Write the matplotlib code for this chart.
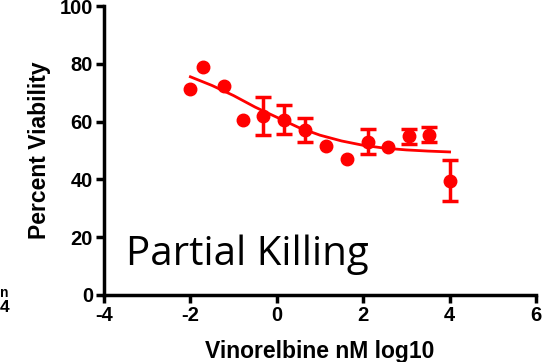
import numpy as np
import matplotlib.pyplot as plt

# log10 concentration (nM) and viability readings
dose = [-2.02, -1.70, -1.23, -0.79, -0.33, 0.16, 0.65, 1.14, 1.63, 2.12, 2.58, 3.05, 3.53, 4.00]
viab = [71.3, 78.9, 72.3, 60.6, 62.0, 60.6, 57.0, 51.6, 47.0, 53.0, 51.2, 55.0, 55.4, 39.6]
sem = [0, 0, 0, 0, 6.5, 5.0, 4.2, 0, 0, 4.3, 0, 2.6, 2.6, 7.0]

# fitted curve
fit_x = [-2.0, -1.5, -1.0, -0.5, 0.0, 0.5, 1.0, 1.5, 2.0, 2.5, 3.0, 3.5, 4.0]
fit_y = [75.5, 72.5, 69.0, 65.0, 61.5, 58.0, 55.3, 53.3, 51.8, 50.8, 50.2, 49.8, 49.5]

plt.rcParams['font.family'] = ['Liberation Sans', 'DejaVu Sans']
plt.rcParams['font.weight'] = 'bold'
plt.rcParams['axes.unicode_minus'] = False

fig = plt.figure(figsize=(5.43, 3.62), dpi=100)
ax = fig.add_axes([104/543, 1-295/362, 432/543, 289/362])

red = '#ff0000'
ax.plot(fit_x, fit_y, '-', color=red, lw=2)
ax.plot(dose, viab, 'o', color=red, ms=9)
ex = [d for d, s in zip(dose, sem) if s > 0]
ey = [v for v, s in zip(viab, sem) if s > 0]
es = [s for s in sem if s > 0]
ax.errorbar(ex, ey, yerr=es, fmt='none', ecolor=red,
            elinewidth=2.5, capsize=5.5, capthick=2.5)

ax.set_xlim(-4, 6)
ax.set_ylim(0, 100)
ax.set_xticks([-4, -2, 0, 2, 4, 6])
ax.set_yticks([0, 20, 40, 60, 80, 100])
for s in ['top', 'right']:
    ax.spines[s].set_visible(False)
for s in ['left', 'bottom']:
    ax.spines[s].set_linewidth(2.5)
ax.tick_params(direction='out', length=6, width=2.5, labelsize=14.5, pad=2)

ax.set_xlabel("Vinorelbine nM log10", fontsize=16.5, fontweight='bold', labelpad=11)
ax.set_ylabel("Percent Viability", fontsize=16.5, fontweight='bold', labelpad=6)

ax.text(-3.5, 10.5, "Partial Killing", fontsize=29, family='Open Sans',
        fontweight='normal', va='baseline')

# text from the neighbouring panel at the left edge
fig.text(0, 1-293/362, "n", fontsize=10, fontweight='bold', ha='left', va='center')
fig.text(0, 1-308/362, "4", fontsize=12.5, fontweight='bold', ha='left', va='center')

fig.savefig("out.png", dpi=100)
